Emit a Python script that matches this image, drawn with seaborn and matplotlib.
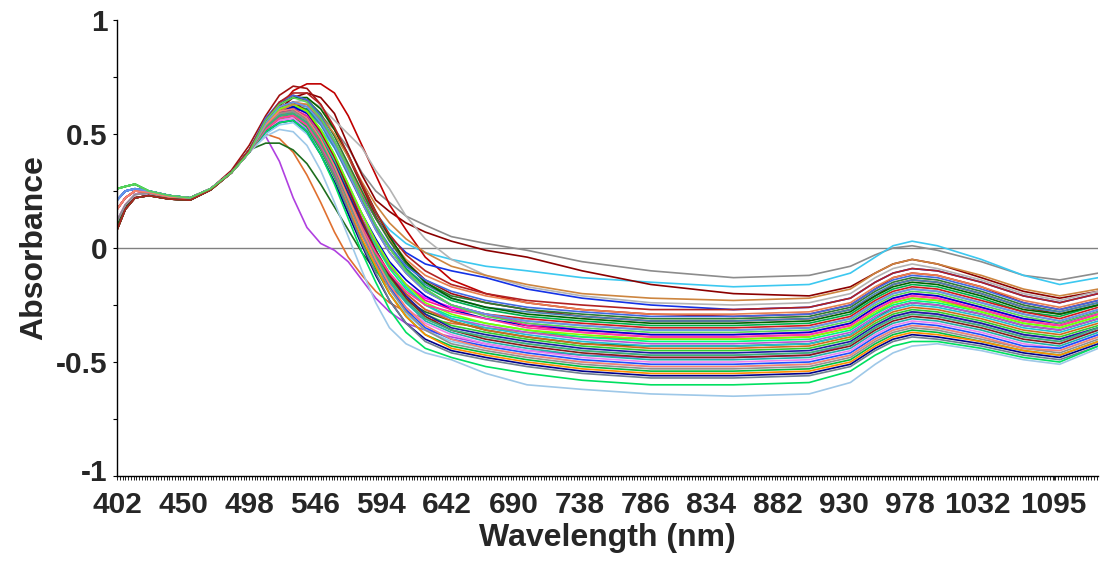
import numpy as np
import pandas as pd
import matplotlib
matplotlib.use("Agg")
import matplotlib.pyplot as plt
import matplotlib.transforms as mtransforms
import seaborn as sns

wavelength = [402, 408, 415, 425, 440, 455, 470, 485, 498,
              510, 520, 530, 540, 550, 560,
              570, 580, 590, 600, 612, 626,
              645, 670, 700, 740, 790, 850, 905,
              935, 953, 966, 980, 1000, 1035, 1070, 1100, 1132]

tick_wavelengths = [402, 450, 498, 546, 594, 642, 690, 738, 786, 834, 882,
                    930, 978, 1032, 1095]

s01 = [0.12, 0.19, 0.235, 0.24, 0.22, 0.215, 0.26, 0.33, 0.42, 0.50, 0.56, 0.60, 0.61, 0.58, 0.52, 0.44, 0.33, 0.25, 0.20, 0.14, 0.10, 0.05, 0.02, -0.01, -0.06, -0.10, -0.13, -0.12, -0.08, -0.03, 0.00, 0.01, -0.01, -0.06, -0.12, -0.14, -0.11]
s02 = [0.21, 0.25, 0.26, 0.25, 0.23, 0.22, 0.26, 0.33, 0.42, 0.51, 0.56, 0.58, 0.57, 0.52, 0.44, 0.34, 0.24, 0.15, 0.08, 0.02, -0.02, -0.05, -0.08, -0.10, -0.13, -0.15, -0.17, -0.16, -0.11, -0.04, 0.01, 0.03, 0.01, -0.05, -0.12, -0.16, -0.13]
s03 = [0.08, 0.17, 0.22, 0.23, 0.215, 0.21, 0.255, 0.33, 0.43, 0.54, 0.61, 0.66, 0.68, 0.66, 0.59, 0.45, 0.32, 0.21, 0.16, 0.11, 0.07, 0.03, -0.01, -0.04, -0.10, -0.16, -0.20, -0.21, -0.17, -0.11, -0.07, -0.05, -0.07, -0.13, -0.19, -0.22, -0.19]
s04 = [0.08, 0.17, 0.22, 0.23, 0.215, 0.21, 0.255, 0.33, 0.43, 0.53, 0.62, 0.69, 0.72, 0.72, 0.68, 0.58, 0.45, 0.32, 0.19, 0.08, -0.04, -0.14, -0.20, -0.24, -0.27, -0.29, -0.30, -0.29, -0.25, -0.18, -0.13, -0.11, -0.12, -0.17, -0.24, -0.27, -0.23]
s05 = [0.09, 0.17, 0.22, 0.23, 0.215, 0.21, 0.26, 0.34, 0.45, 0.58, 0.67, 0.71, 0.70, 0.63, 0.52, 0.40, 0.27, 0.14, 0.04, -0.06, -0.14, -0.20, -0.24, -0.27, -0.30, -0.32, -0.32, -0.31, -0.27, -0.21, -0.16, -0.14, -0.15, -0.20, -0.26, -0.29, -0.25]
s06 = [0.17, 0.22, 0.25, 0.245, 0.225, 0.22, 0.26, 0.33, 0.43, 0.49, 0.38, 0.22, 0.09, 0.02, -0.01, -0.06, -0.14, -0.22, -0.28, -0.33, -0.36, -0.39, -0.42, -0.45, -0.47, -0.48, -0.48, -0.47, -0.42, -0.35, -0.30, -0.28, -0.29, -0.33, -0.38, -0.40, -0.35]
s07 = [0.17, 0.22, 0.25, 0.245, 0.225, 0.22, 0.26, 0.33, 0.43, 0.50, 0.48, 0.42, 0.32, 0.20, 0.07, -0.04, -0.12, -0.19, -0.24, -0.28, -0.31, -0.33, -0.35, -0.37, -0.39, -0.40, -0.40, -0.39, -0.35, -0.29, -0.24, -0.22, -0.23, -0.27, -0.32, -0.34, -0.29]
s08 = [0.10, 0.18, 0.22, 0.23, 0.215, 0.21, 0.255, 0.33, 0.43, 0.46, 0.46, 0.43, 0.37, 0.28, 0.18, 0.08, -0.02, -0.10, -0.17, -0.23, -0.28, -0.32, -0.36, -0.39, -0.42, -0.43, -0.43, -0.42, -0.38, -0.31, -0.26, -0.24, -0.25, -0.29, -0.34, -0.36, -0.31]
s09 = [0.17, 0.22, 0.25, 0.245, 0.225, 0.22, 0.26, 0.33, 0.42, 0.53, 0.60, 0.64, 0.65, 0.62, 0.56, 0.50, 0.44, 0.34, 0.26, 0.14, 0.04, -0.05, -0.12, -0.17, -0.21, -0.24, -0.25, -0.24, -0.20, -0.13, -0.09, -0.07, -0.09, -0.14, -0.20, -0.23, -0.19]
s10 = [0.21, 0.25, 0.26, 0.25, 0.23, 0.22, 0.26, 0.33, 0.42, 0.53, 0.59, 0.62, 0.61, 0.55, 0.45, 0.34, 0.23, 0.13, 0.05, -0.02, -0.07, -0.10, -0.13, -0.18, -0.22, -0.25, -0.27, -0.26, -0.22, -0.15, -0.11, -0.09, -0.10, -0.15, -0.21, -0.24, -0.20]
s11 = [0.17, 0.22, 0.25, 0.245, 0.225, 0.22, 0.26, 0.33, 0.42, 0.54, 0.61, 0.64, 0.63, 0.57, 0.47, 0.36, 0.24, 0.13, 0.04, -0.05, -0.12, -0.17, -0.21, -0.24, -0.27, -0.29, -0.29, -0.28, -0.24, -0.17, -0.13, -0.11, -0.12, -0.17, -0.23, -0.26, -0.22]
s12 = [0.08, 0.17, 0.22, 0.23, 0.215, 0.21, 0.255, 0.33, 0.43, 0.55, 0.63, 0.66, 0.65, 0.59, 0.49, 0.37, 0.25, 0.13, 0.03, -0.07, -0.15, -0.21, -0.24, -0.27, -0.29, -0.31, -0.31, -0.30, -0.26, -0.19, -0.15, -0.13, -0.14, -0.19, -0.25, -0.28, -0.24]
s13 = [0.21, 0.25, 0.26, 0.25, 0.23, 0.22, 0.26, 0.33, 0.42, 0.52, 0.58, 0.61, 0.60, 0.54, 0.44, 0.32, 0.20, 0.09, 0.00, -0.09, -0.16, -0.22, -0.26, -0.28, -0.30, -0.32, -0.32, -0.31, -0.27, -0.20, -0.16, -0.14, -0.15, -0.20, -0.26, -0.28, -0.24]
s14 = [0.26, 0.27, 0.28, 0.25, 0.23, 0.22, 0.26, 0.33, 0.42, 0.52, 0.59, 0.62, 0.61, 0.55, 0.45, 0.33, 0.21, 0.10, 0.00, -0.09, -0.17, -0.23, -0.27, -0.30, -0.32, -0.34, -0.34, -0.33, -0.29, -0.22, -0.18, -0.16, -0.17, -0.22, -0.28, -0.30, -0.25]
s15 = [0.08, 0.17, 0.22, 0.23, 0.215, 0.21, 0.255, 0.33, 0.43, 0.56, 0.64, 0.67, 0.65, 0.57, 0.46, 0.33, 0.20, 0.08, -0.02, -0.11, -0.19, -0.25, -0.29, -0.31, -0.33, -0.35, -0.35, -0.34, -0.30, -0.23, -0.19, -0.17, -0.18, -0.23, -0.28, -0.31, -0.26]
s16 = [0.17, 0.22, 0.25, 0.245, 0.225, 0.22, 0.26, 0.33, 0.42, 0.52, 0.57, 0.58, 0.55, 0.47, 0.36, 0.24, 0.12, 0.01, -0.08, -0.16, -0.22, -0.26, -0.29, -0.33, -0.36, -0.38, -0.38, -0.37, -0.33, -0.26, -0.22, -0.20, -0.21, -0.26, -0.31, -0.33, -0.28]
s17 = [0.12, 0.19, 0.235, 0.24, 0.22, 0.215, 0.26, 0.33, 0.42, 0.53, 0.60, 0.63, 0.62, 0.56, 0.46, 0.34, 0.22, 0.10, 0.00, -0.10, -0.18, -0.25, -0.29, -0.32, -0.34, -0.36, -0.36, -0.35, -0.31, -0.24, -0.20, -0.18, -0.19, -0.24, -0.29, -0.32, -0.27]
s18 = [0.21, 0.25, 0.26, 0.25, 0.23, 0.22, 0.26, 0.33, 0.42, 0.54, 0.60, 0.62, 0.59, 0.51, 0.40, 0.27, 0.15, 0.04, -0.06, -0.14, -0.21, -0.27, -0.31, -0.34, -0.36, -0.38, -0.38, -0.37, -0.33, -0.26, -0.22, -0.20, -0.21, -0.26, -0.31, -0.33, -0.28]
s19 = [0.17, 0.22, 0.25, 0.245, 0.225, 0.22, 0.26, 0.33, 0.42, 0.53, 0.59, 0.61, 0.58, 0.50, 0.39, 0.26, 0.13, 0.02, -0.08, -0.16, -0.23, -0.27, -0.29, -0.34, -0.37, -0.39, -0.39, -0.38, -0.34, -0.27, -0.23, -0.21, -0.22, -0.27, -0.32, -0.34, -0.29]
s20 = [0.26, 0.27, 0.28, 0.25, 0.23, 0.22, 0.26, 0.33, 0.42, 0.52, 0.58, 0.60, 0.57, 0.49, 0.38, 0.25, 0.12, 0.01, -0.09, -0.18, -0.25, -0.30, -0.33, -0.36, -0.39, -0.41, -0.41, -0.40, -0.36, -0.29, -0.25, -0.23, -0.24, -0.28, -0.33, -0.35, -0.30]
s21 = [0.12, 0.19, 0.235, 0.24, 0.22, 0.215, 0.26, 0.33, 0.42, 0.51, 0.56, 0.57, 0.53, 0.44, 0.33, 0.20, 0.08, -0.03, -0.12, -0.20, -0.27, -0.31, -0.34, -0.37, -0.40, -0.42, -0.42, -0.41, -0.37, -0.30, -0.26, -0.24, -0.25, -0.29, -0.34, -0.36, -0.31]
s22 = [0.21, 0.25, 0.26, 0.25, 0.23, 0.22, 0.26, 0.33, 0.42, 0.54, 0.61, 0.63, 0.60, 0.52, 0.41, 0.28, 0.15, 0.03, -0.07, -0.17, -0.25, -0.31, -0.35, -0.38, -0.41, -0.43, -0.43, -0.42, -0.38, -0.31, -0.27, -0.25, -0.26, -0.30, -0.35, -0.37, -0.32]
s23 = [0.17, 0.22, 0.25, 0.245, 0.225, 0.22, 0.26, 0.33, 0.42, 0.53, 0.59, 0.60, 0.56, 0.47, 0.36, 0.23, 0.10, -0.01, -0.11, -0.20, -0.27, -0.32, -0.36, -0.39, -0.42, -0.44, -0.44, -0.43, -0.39, -0.32, -0.28, -0.26, -0.27, -0.31, -0.36, -0.38, -0.33]
s24 = [0.26, 0.27, 0.28, 0.25, 0.23, 0.22, 0.26, 0.33, 0.42, 0.51, 0.57, 0.58, 0.54, 0.45, 0.34, 0.21, 0.08, -0.03, -0.13, -0.22, -0.29, -0.34, -0.37, -0.40, -0.43, -0.45, -0.45, -0.44, -0.40, -0.33, -0.29, -0.27, -0.28, -0.32, -0.37, -0.39, -0.34]
s25 = [0.17, 0.22, 0.25, 0.245, 0.225, 0.22, 0.26, 0.33, 0.42, 0.54, 0.60, 0.61, 0.57, 0.48, 0.37, 0.24, 0.11, -0.01, -0.12, -0.21, -0.29, -0.35, -0.38, -0.41, -0.44, -0.46, -0.46, -0.45, -0.41, -0.34, -0.30, -0.28, -0.29, -0.33, -0.38, -0.40, -0.35]
s26 = [0.21, 0.25, 0.26, 0.25, 0.23, 0.22, 0.26, 0.33, 0.42, 0.51, 0.55, 0.56, 0.52, 0.43, 0.32, 0.19, 0.06, -0.05, -0.15, -0.24, -0.31, -0.36, -0.39, -0.42, -0.45, -0.47, -0.47, -0.46, -0.42, -0.35, -0.31, -0.29, -0.30, -0.34, -0.39, -0.41, -0.36]
s27 = [0.08, 0.17, 0.22, 0.23, 0.215, 0.21, 0.255, 0.33, 0.43, 0.55, 0.62, 0.64, 0.60, 0.51, 0.40, 0.26, 0.12, -0.01, -0.12, -0.22, -0.30, -0.36, -0.40, -0.43, -0.46, -0.48, -0.48, -0.47, -0.43, -0.36, -0.32, -0.30, -0.31, -0.35, -0.40, -0.42, -0.36]
s28 = [0.26, 0.27, 0.28, 0.25, 0.23, 0.22, 0.26, 0.33, 0.42, 0.53, 0.58, 0.59, 0.55, 0.46, 0.35, 0.21, 0.08, -0.04, -0.15, -0.24, -0.32, -0.37, -0.41, -0.44, -0.47, -0.49, -0.49, -0.48, -0.44, -0.37, -0.33, -0.31, -0.32, -0.36, -0.41, -0.43, -0.37]
s29 = [0.12, 0.19, 0.235, 0.24, 0.22, 0.215, 0.26, 0.33, 0.42, 0.52, 0.56, 0.57, 0.53, 0.44, 0.33, 0.19, 0.06, -0.06, -0.17, -0.26, -0.33, -0.38, -0.42, -0.45, -0.48, -0.50, -0.50, -0.49, -0.45, -0.38, -0.34, -0.32, -0.33, -0.37, -0.42, -0.44, -0.38]
s30 = [0.21, 0.25, 0.26, 0.25, 0.23, 0.22, 0.26, 0.33, 0.42, 0.53, 0.58, 0.59, 0.55, 0.46, 0.34, 0.20, 0.06, -0.06, -0.17, -0.27, -0.35, -0.40, -0.43, -0.46, -0.49, -0.51, -0.51, -0.50, -0.46, -0.39, -0.35, -0.33, -0.34, -0.38, -0.43, -0.44, -0.38]
s31 = [0.21, 0.25, 0.26, 0.25, 0.23, 0.22, 0.26, 0.33, 0.42, 0.50, 0.54, 0.55, 0.50, 0.41, 0.29, 0.16, 0.03, -0.09, -0.20, -0.29, -0.36, -0.41, -0.44, -0.47, -0.50, -0.52, -0.52, -0.51, -0.47, -0.40, -0.36, -0.34, -0.35, -0.39, -0.44, -0.45, -0.39]
s32 = [0.12, 0.19, 0.235, 0.24, 0.22, 0.215, 0.26, 0.33, 0.42, 0.53, 0.59, 0.60, 0.56, 0.46, 0.34, 0.20, 0.06, -0.07, -0.18, -0.28, -0.36, -0.42, -0.45, -0.48, -0.51, -0.53, -0.53, -0.52, -0.48, -0.41, -0.37, -0.35, -0.36, -0.40, -0.44, -0.46, -0.40]
s33 = [0.26, 0.27, 0.28, 0.25, 0.23, 0.22, 0.26, 0.33, 0.42, 0.52, 0.57, 0.58, 0.53, 0.43, 0.31, 0.17, 0.03, -0.09, -0.20, -0.30, -0.38, -0.43, -0.46, -0.49, -0.52, -0.54, -0.54, -0.53, -0.49, -0.42, -0.38, -0.36, -0.37, -0.41, -0.45, -0.47, -0.41]
s34 = [0.17, 0.22, 0.25, 0.245, 0.225, 0.22, 0.26, 0.33, 0.42, 0.52, 0.57, 0.58, 0.54, 0.44, 0.32, 0.18, 0.04, -0.08, -0.20, -0.30, -0.38, -0.44, -0.47, -0.50, -0.53, -0.55, -0.55, -0.54, -0.50, -0.43, -0.39, -0.37, -0.38, -0.41, -0.45, -0.47, -0.41]
s35 = [0.21, 0.25, 0.26, 0.25, 0.23, 0.22, 0.26, 0.33, 0.42, 0.51, 0.55, 0.56, 0.51, 0.41, 0.29, 0.15, 0.01, -0.12, -0.23, -0.33, -0.40, -0.45, -0.48, -0.51, -0.54, -0.56, -0.56, -0.55, -0.51, -0.44, -0.40, -0.38, -0.39, -0.42, -0.46, -0.48, -0.42]
s36 = [0.08, 0.17, 0.22, 0.23, 0.215, 0.21, 0.255, 0.33, 0.43, 0.53, 0.58, 0.59, 0.54, 0.44, 0.32, 0.17, 0.02, -0.11, -0.23, -0.33, -0.41, -0.46, -0.49, -0.52, -0.55, -0.57, -0.57, -0.56, -0.52, -0.45, -0.41, -0.39, -0.40, -0.43, -0.47, -0.49, -0.43]
s37 = [0.26, 0.27, 0.28, 0.25, 0.23, 0.22, 0.26, 0.33, 0.42, 0.51, 0.55, 0.56, 0.51, 0.41, 0.28, 0.13, -0.02, -0.15, -0.27, -0.37, -0.44, -0.48, -0.52, -0.55, -0.58, -0.60, -0.60, -0.59, -0.54, -0.47, -0.43, -0.41, -0.41, -0.44, -0.48, -0.50, -0.43]
s38 = [0.21, 0.25, 0.26, 0.25, 0.23, 0.22, 0.26, 0.33, 0.42, 0.49, 0.52, 0.51, 0.45, 0.34, 0.20, 0.05, -0.10, -0.24, -0.35, -0.42, -0.46, -0.49, -0.55, -0.60, -0.62, -0.64, -0.65, -0.64, -0.59, -0.51, -0.46, -0.43, -0.42, -0.45, -0.49, -0.51, -0.44]
s39 = [0.26, 0.27, 0.28, 0.25, 0.23, 0.22, 0.26, 0.33, 0.42, 0.55, 0.61, 0.63, 0.60, 0.52, 0.41, 0.28, 0.15, 0.03, -0.07, -0.16, -0.24, -0.29, -0.33, -0.36, -0.38, -0.40, -0.40, -0.39, -0.35, -0.28, -0.24, -0.22, -0.23, -0.28, -0.33, -0.35, -0.30]
s40 = [0.17, 0.22, 0.25, 0.245, 0.225, 0.22, 0.26, 0.33, 0.42, 0.52, 0.57, 0.58, 0.54, 0.45, 0.34, 0.21, 0.09, -0.02, -0.11, -0.19, -0.25, -0.28, -0.31, -0.35, -0.37, -0.39, -0.39, -0.38, -0.34, -0.27, -0.23, -0.21, -0.22, -0.27, -0.32, -0.34, -0.29]
s41 = [0.08, 0.17, 0.22, 0.23, 0.215, 0.21, 0.255, 0.33, 0.43, 0.56, 0.63, 0.66, 0.66, 0.61, 0.52, 0.41, 0.28, 0.16, 0.05, -0.06, -0.15, -0.22, -0.26, -0.29, -0.31, -0.33, -0.33, -0.32, -0.28, -0.21, -0.17, -0.15, -0.16, -0.21, -0.27, -0.29, -0.25]
s42 = [0.17, 0.22, 0.25, 0.245, 0.225, 0.22, 0.26, 0.33, 0.42, 0.54, 0.60, 0.63, 0.63, 0.58, 0.50, 0.40, 0.29, 0.19, 0.11, 0.04, -0.02, -0.08, -0.12, -0.16, -0.20, -0.22, -0.23, -0.22, -0.18, -0.11, -0.07, -0.05, -0.07, -0.12, -0.18, -0.21, -0.18]
s43 = [0.21, 0.25, 0.26, 0.25, 0.23, 0.22, 0.26, 0.33, 0.43, 0.57, 0.64, 0.67, 0.65, 0.58, 0.47, 0.35, 0.22, 0.10, 0.01, -0.08, -0.14, -0.19, -0.23, -0.26, -0.28, -0.30, -0.30, -0.29, -0.25, -0.18, -0.14, -0.12, -0.13, -0.18, -0.24, -0.27, -0.23]
s44 = [0.26, 0.27, 0.28, 0.25, 0.23, 0.22, 0.26, 0.33, 0.42, 0.53, 0.58, 0.59, 0.55, 0.46, 0.35, 0.21, 0.08, -0.04, -0.14, -0.23, -0.31, -0.36, -0.39, -0.42, -0.45, -0.47, -0.47, -0.46, -0.42, -0.35, -0.31, -0.29, -0.30, -0.34, -0.39, -0.41, -0.35]
s45 = [0.17, 0.22, 0.25, 0.245, 0.225, 0.22, 0.26, 0.33, 0.42, 0.54, 0.60, 0.61, 0.57, 0.48, 0.36, 0.22, 0.08, -0.05, -0.16, -0.26, -0.34, -0.40, -0.44, -0.47, -0.50, -0.52, -0.52, -0.51, -0.47, -0.40, -0.36, -0.34, -0.35, -0.39, -0.44, -0.45, -0.39]
s46 = [0.21, 0.25, 0.26, 0.25, 0.23, 0.22, 0.26, 0.33, 0.42, 0.55, 0.62, 0.64, 0.62, 0.55, 0.45, 0.33, 0.20, 0.08, -0.02, -0.11, -0.19, -0.25, -0.29, -0.32, -0.34, -0.36, -0.36, -0.35, -0.31, -0.24, -0.20, -0.18, -0.19, -0.24, -0.29, -0.32, -0.27]
s47 = [0.08, 0.17, 0.22, 0.23, 0.215, 0.21, 0.255, 0.33, 0.43, 0.56, 0.64, 0.68, 0.68, 0.63, 0.53, 0.41, 0.28, 0.16, 0.06, -0.03, -0.10, -0.16, -0.20, -0.23, -0.25, -0.27, -0.27, -0.26, -0.22, -0.15, -0.11, -0.09, -0.10, -0.15, -0.21, -0.24, -0.20]
s48 = [0.26, 0.27, 0.28, 0.25, 0.23, 0.22, 0.26, 0.33, 0.42, 0.56, 0.63, 0.66, 0.64, 0.57, 0.47, 0.35, 0.22, 0.10, 0.00, -0.10, -0.18, -0.25, -0.30, -0.33, -0.35, -0.37, -0.37, -0.36, -0.32, -0.25, -0.21, -0.19, -0.20, -0.25, -0.30, -0.33, -0.28]

spectra = [s01, s02, s03, s04, s05, s06, s07, s08, s09, s10, s11, s12, s13, s14, s15, s16,
           s17, s18, s19, s20, s21, s22, s23, s24, s25, s26, s27, s28, s29, s30, s31, s32,
           s33, s34, s35, s36, s37, s38, s39, s40, s41, s42, s43, s44, s45, s46, s47, s48]

line_colors = [
    "#8c8c8c", "#3cc8f0", "#8b0000", "#c00000", "#a01010", "#b040e0", "#e07030",
    "#1e6e1e", "#b4b4b4", "#1432e6", "#e88050", "#2e7d32", "#4682b4", "#00b050",
    "#d01c1c", "#ff00ff", "#808080", "#0000cd", "#ff1493", "#00fa7f", "#ba55d3",
    "#20c0d0", "#d2691e", "#32cd32", "#1c1ca0", "#8080ff", "#8b1a1a", "#20b2aa",
    "#ee82ee", "#1e50ff", "#87ceeb", "#909090", "#00c040", "#ff8c00", "#00008b",
    "#708090", "#00e060", "#9ec8e8", "#7fff00", "#ff3ca0", "#006400", "#cd853f",
    "#4169e1", "#3cb371", "#fa8072", "#6495ed", "#b22222", "#5ad25a",
]

df = pd.DataFrame(
    [(w, a, f"s{i + 1:02d}") for i, s in enumerate(spectra) for w, a in zip(wavelength, s)],
    columns=["wavelength", "absorbance", "sample"],
)

# the instrument axis is spaced by channel, not by nm: piecewise mapping
nm_nodes = [-10000, 978, 1032, 1095, 10000]
pos_nodes = [-10402, 576, 625.5, 680.7, 680.7 + (10000 - 1095) * 0.877]


def to_pos(x):
    return np.interp(x, nm_nodes, pos_nodes)


def to_nm(p):
    return np.interp(p, pos_nodes, nm_nodes)


sns.set_theme(style="ticks")
plt.rcParams["font.family"] = ["Liberation Sans", "DejaVu Sans"]
plt.rcParams["font.weight"] = "bold"

fig = plt.figure(figsize=(11.15, 5.61), dpi=100)
ax = fig.add_axes([0.105, 0.1515, 0.88, 0.8128])

sns.lineplot(
    data=df, x="wavelength", y="absorbance", hue="sample",
    palette=line_colors, estimator=None, sort=False, legend=False,
    linewidth=1.2, ax=ax,
)

ax.set_xscale("function", functions=(to_pos, to_nm))
ax.set_xlim(402, 1132)
ax.set_ylim(-1, 1)
ax.axhline(0, color="#808080", linewidth=1.0, zorder=0)

ax.set_xticks(tick_wavelengths)
ax.set_xticklabels([str(t) for t in tick_wavelengths])
ax.set_xticks(to_nm(np.arange(0, 714, 2.0)), minor=True)
ax.set_yticks([-1, -0.5, 0, 0.5, 1])
ax.set_yticklabels(["-1", "-0.5", "0", "0.5", "1"])
ax.set_yticks([-0.75, -0.25, 0.25, 0.75], minor=True)

ax.tick_params(axis="x", which="both", direction="out", length=3, width=0.6,
               color="black", labelsize=21.5, pad=8)
ax.tick_params(axis="y", which="both", direction="out", length=3, width=0.8,
               color="black", labelsize=21.5, pad=4)
for lbl in ax.get_xticklabels() + ax.get_yticklabels():
    lbl.set_fontweight("bold")

# lift the "-1" label a touch so it clears the first wavelength label
bottom_lbl = ax.get_yticklabels()[0]
bottom_lbl.set_transform(bottom_lbl.get_transform()
                         + mtransforms.ScaledTranslation(0, 4 / 72, fig.dpi_scale_trans))

ax.set_xlabel("Wavelength (nm)", fontsize=23, fontweight="bold", labelpad=3)
ax.set_ylabel("Absorbance", fontsize=23, fontweight="bold", labelpad=5)

sns.despine(ax=ax)
for side in ["left", "bottom"]:
    ax.spines[side].set_color("black")
    ax.spines[side].set_linewidth(1.0)

fig.savefig("out.png", dpi=100, facecolor="white")
